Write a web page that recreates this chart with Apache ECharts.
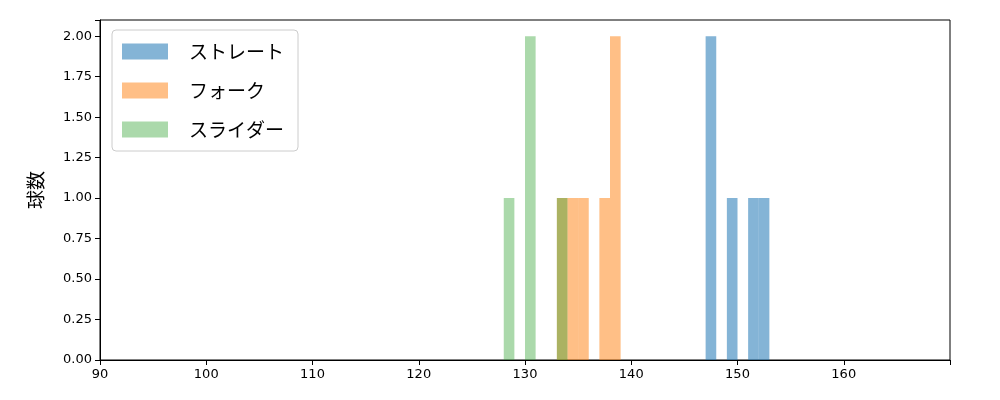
<!DOCTYPE html>
<html><head><meta charset="utf-8">
<script src="https://cdn.jsdelivr.net/npm/echarts@6/dist/echarts.min.js"></script>
<style>html,body{margin:0;padding:0;}#c{width:1000px;height:400px;}</style>
</head><body><div id="c"></div>
<script>
const seriesNames = ['ストレート','フォーク','スライダー'];
const colors = ['rgba(31,119,180,0.55)','rgba(255,127,14,0.5)','rgba(44,160,44,0.4)'];
// bins: [start, end, count]
const straightBins = [[147,148,2],[149,150,1],[151,152,1],[152,153,1]];
const forkBins = [[133,134,1],[134,135,1],[135,136,1],[137,138,1],[138,139,2]];
const sliderBins = [[128,129,1],[130,131,2],[133,134,1]];
const xTicks = [90,100,110,120,130,140,150,160];
const yLabel = '球数';
const allBins = [straightBins, forkBins, sliderBins];

function render(params, api){
  const a = api.coord([api.value(0), api.value(2)]);
  const b = api.coord([api.value(1), 0]);
  return {type:'rect', shape:{x:a[0], y:a[1], width:b[0]-a[0], height:b[1]-a[1]}, style:{fill:api.visual('color')}};
}
const chart = echarts.init(document.getElementById('c'));
chart.setOption({
  animation:false,
  textStyle:{fontFamily:'DejaVu Sans'},
  grid:{left:100,right:50,top:20,bottom:40},
  legend:{orient:'vertical',left:112,top:30,padding:[12,14,12,10],itemGap:20,itemWidth:46,itemHeight:16,
    borderColor:'#ccc',borderWidth:1,borderRadius:4,backgroundColor:'#fff',
    textStyle:{fontSize:19,fontFamily:'Noto Sans CJK JP',color:'#000',padding:[0,0,0,16]},
    data:seriesNames.map((n)=>({name:n,icon:'rect'}))},
  xAxis:{type:'value',min:90,max:170,interval:10,
    axisLine:{lineStyle:{color:'#000'}},axisTick:{show:true,length:5,lineStyle:{color:'#000'}},
    axisLabel:{color:'#000',fontSize:13,formatter:v=>xTicks.includes(v)?String(v):''},splitLine:{show:false}},
  yAxis:{type:'value',min:0,max:2.1,interval:0.25,name:yLabel,nameLocation:'middle',nameGap:55,nameRotate:90,
    nameTextStyle:{fontSize:19,color:'#000',fontFamily:'Noto Sans CJK JP'},
    axisLine:{show:true,lineStyle:{color:'#000'}},axisTick:{show:true,length:5,lineStyle:{color:'#000'}},
    axisLabel:{color:'#000',fontSize:13,formatter:v=>v>2.01?'':v.toFixed(2)},splitLine:{show:false}},
  series: allBins.map((d,i)=>({name:seriesNames[i],type:'custom',renderItem:render,itemStyle:{color:colors[i]},
    encode:{x:[0,1],y:2},data:d}))
});
chart.setOption({graphic:[{type:'rect',shape:{x:100,y:20,width:850,height:340},style:{fill:'none',stroke:'#000',lineWidth:1},z:-1}]});
</script></body></html>
